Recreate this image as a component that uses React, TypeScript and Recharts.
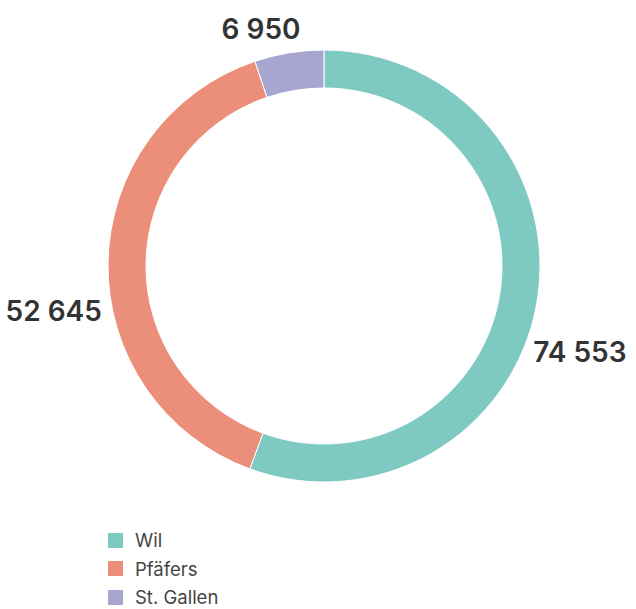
import React from 'react';
import { PieChart, Pie, Cell } from 'recharts';

const categories = ['Wil', 'Pfäfers', 'St. Gallen'];
const values = [74553, 52645, 6950];
const colors = ['#7ECAC3', '#EC8F7A', '#A7A6CE'];

const chartData = categories.map((name, i) => ({ name, value: values[i] }));

const CX = 324;
const CY = 266;
const OUTER = 216;
const INNER = 178;

// thousands with a space, like "74 553"
const fmt = (v: number) => String(v).replace(/\B(?=(\d{3})+(?!\d))/g, ' ');

const renderLabel = (props: any) => {
    const { cx, cy, midAngle, outerRadius, value } = props;
    const rad = Math.PI / 180;
    const cos = Math.cos(-midAngle * rad);
    const sin = Math.sin(-midAngle * rad);
    let x: number;
    let y: number;
    let anchor: 'start' | 'end' | 'middle';
    if (Math.abs(cos) > 0.5) {
        // side labels sit a bit below the slice middle, just outside the ring
        y = cy + sin * outerRadius + 48;
        const dy = Math.min(Math.abs(y - cy), outerRadius);
        const edge = Math.sqrt(outerRadius * outerRadius - dy * dy) + 11;
        x = cx + Math.sign(cos) * edge;
        anchor = cos > 0 ? 'start' : 'end';
    } else {
        y = cy + sin * (outerRadius + 24);
        x = cx + cos * outerRadius - 28;
        anchor = 'middle';
    }
    return (
        <text
            x={x}
            y={y}
            textAnchor={anchor}
            dominantBaseline="central"
            fill="#333333"
            fontSize={28}
            fontWeight={600}
            fontFamily="Inter, 'Noto Sans', sans-serif"
        >
            {fmt(value)}
        </text>
    );
};

export default function App() {
    return (
        <div style={{ position: 'absolute', left: 0, top: 0, width: 636, height: 609, background: '#fff' }}>
            <PieChart width={636} height={520} margin={{ top: 0, right: 0, bottom: 0, left: 0 }}>
                <Pie
                    data={chartData}
                    dataKey="value"
                    nameKey="name"
                    cx={CX}
                    cy={CY}
                    innerRadius={INNER}
                    outerRadius={OUTER}
                    startAngle={90}
                    endAngle={-270}
                    stroke="#ffffff"
                    strokeWidth={1}
                    label={renderLabel}
                    labelLine={false}
                    isAnimationActive={false}
                >
                    {chartData.map((d, i) => (
                        <Cell key={d.name} fill={colors[i]} />
                    ))}
                </Pie>
            </PieChart>
            <div style={{ position: 'absolute', left: 108, top: 526, fontFamily: "Inter, 'Noto Sans', sans-serif" }}>
                {categories.map((name, i) => (
                    <div key={name} style={{ display: 'flex', alignItems: 'center', height: 28.5 }}>
                        <span style={{ width: 15, height: 15, background: colors[i], display: 'inline-block', marginRight: 12 }} />
                        <span style={{ fontSize: 18.5, color: '#444444' }}>{name}</span>
                    </div>
                ))}
            </div>
        </div>
    );
}
